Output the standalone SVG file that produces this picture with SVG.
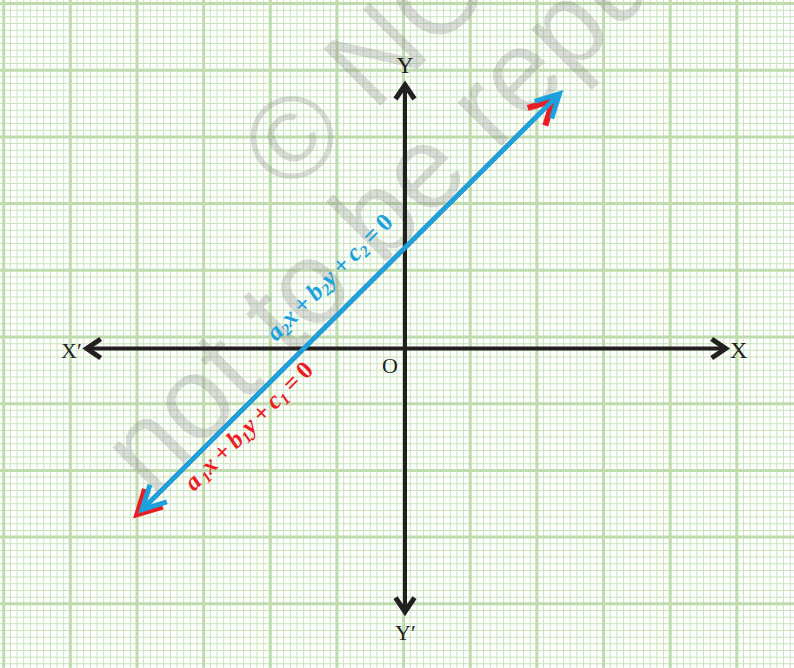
<svg xmlns="http://www.w3.org/2000/svg" width="794" height="668" viewBox="0 0 794 668">
<defs>
<style>
.minor{stroke:#c8e4ba;fill:none}
.major{stroke:#bfdcad;fill:none}
.wm{font-family:"Liberation Sans",Arial,sans-serif;font-size:117px;fill:#8c8c8c;fill-opacity:0.3}
.axis{stroke:#231f20;stroke-width:4;fill:none}
.lbl{font-family:"Liberation Serif","Times New Roman",serif;fill:#231f20}
.eq{font-family:"Liberation Serif","Times New Roman",serif;font-size:25px;font-weight:bold;font-style:italic;word-spacing:-1.5px}
.sub{font-size:16px}
.up{font-style:normal}
</style>
<marker id="ah-k" markerUnits="userSpaceOnUse" orient="auto-start-reverse" refX="0" refY="0" markerWidth="40" markerHeight="40" overflow="visible">
<path d="M-14,-9.5 L0,0 L-14,9.5" fill="none" stroke="#231f20" stroke-width="5"/>
</marker>
<marker id="ah-b" markerUnits="userSpaceOnUse" orient="auto-start-reverse" refX="0" refY="0" markerWidth="40" markerHeight="40" overflow="visible">
<path d="M-23,-12 L0,0 L-23,12" fill="none" stroke="#1aa2de" stroke-width="5"/>
</marker>
<marker id="ah-r" markerUnits="userSpaceOnUse" orient="auto-start-reverse" refX="0" refY="0" markerWidth="40" markerHeight="40" overflow="visible">
<path d="M-23,-12.5 L0,0 L-23,12.5" fill="none" stroke="#ed1c24" stroke-width="6"/>
</marker>
</defs>
<rect width="794" height="668" fill="#ffffff"/>
<g id="grid">
<line class="minor" x1="-3.465" y1="334" x2="794" y2="334" stroke-width="668" stroke-dasharray="1 5.665"/>
<line class="minor" x1="397" y1="-3.67" x2="397" y2="668" stroke-width="794" stroke-dasharray="1 5.67"/>
<line class="major" x1="-64.45" y1="334" x2="794" y2="334" stroke-width="668" stroke-dasharray="3 63.65"/>
<line class="major" x1="397" y1="-64.7" x2="397" y2="668" stroke-width="794" stroke-dasharray="3 63.7"/>
</g>
<g id="watermark" transform="rotate(-45)">
<text class="wm" x="66" y="344">© NCERT</text>
<text class="wm" x="-245" y="458">not to be republished</text>
</g>
<g id="connectors">
<line id="x-axis" class="axis" x1="86.7" y1="348.5" x2="725.7" y2="348.5" marker-start="url(#ah-k)" marker-end="url(#ah-k)"/>
<line id="y-axis" class="axis" x1="405" y1="85" x2="405" y2="611.7" marker-start="url(#ah-k)" marker-end="url(#ah-k)"/>
<line id="line1" x1="137.5" y1="514.1" x2="552.8" y2="100.5" stroke="#ed1c24" stroke-width="4.5" marker-start="url(#ah-r)" marker-end="url(#ah-r)"/>
<line id="line2" x1="142.1" y1="509.6" x2="559.5" y2="93.7" stroke="#1aa2de" stroke-width="4.8" marker-start="url(#ah-b)" marker-end="url(#ah-b)"/>
</g>
<g id="axis-labels" class="lbl">
<text id="lbl-y" x="405" y="73" font-size="23" text-anchor="middle">Y</text>
<text id="lbl-y2" x="395" y="640" font-size="22">Y′</text>
<text id="lbl-x" x="730" y="358" font-size="24">X</text>
<text id="lbl-x2" x="61" y="358" font-size="22">X′</text>
<text id="lbl-o" x="382" y="373" font-size="22">O</text>
</g>
<g id="eq-labels" transform="rotate(-45)">
<text id="eq2" class="eq" x="37" y="437" text-anchor="middle" fill="#1aa2de">a<tspan class="sub" dy="4">2</tspan><tspan dy="-4">x + b</tspan><tspan class="sub" dy="4">2</tspan><tspan dy="-4">y + c</tspan><tspan class="sub" dy="4">2</tspan><tspan dy="-4"> = </tspan><tspan class="up">0</tspan></text>
<text id="eq1" class="eq" x="-125.5" y="485" text-anchor="middle" fill="#ed1c24">a<tspan class="sub" dx="3" dy="4">1</tspan><tspan dy="-4">x + b</tspan><tspan class="sub" dy="4">1</tspan><tspan dy="-4">y + c</tspan><tspan class="sub" dy="4">1</tspan><tspan dy="-4"> = </tspan><tspan class="up">0</tspan></text>
</g>
</svg>
